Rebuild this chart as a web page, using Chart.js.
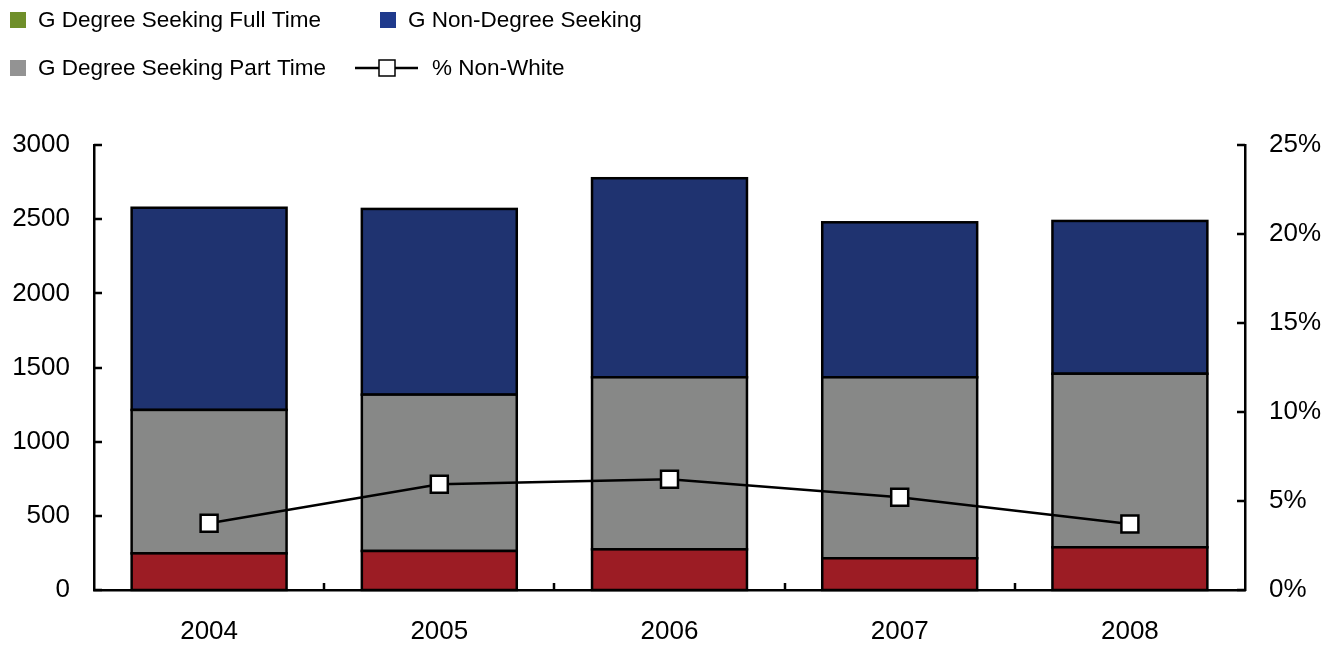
<!DOCTYPE html>
<html>
<head>
<meta charset="utf-8">
<script src="https://cdn.jsdelivr.net/npm/chart.js@4.4.0/dist/chart.umd.min.js"></script>
<style>
  body { margin: 0; background: #fff; }
  canvas { display: block; }
</style>
</head>
<body>
<canvas id="myChart" width="1338" height="648"></canvas>
<script>
// Données
const years = ['2004', '2005', '2006', '2007', '2008'];
const fullTime = [247, 263, 274, 214, 288];
const partTime = [967, 1054, 1160, 1220, 1170];
const nonDegree = [1363, 1252, 1342, 1045, 1030];
const pctNonWhite = [3.75, 5.94, 6.22, 5.21, 3.71];

const FONT = '"Liberation Sans", Arial, sans-serif';

// Légende dessinée à la main (grille 2x2 comme l'original)
const legendPlugin = {
  id: 'customLegend',
  afterDraw(chart) {
    const ctx = chart.ctx;
    const items = [
      { label: chart.data.datasets[0].label, color: '#6F8F2A', x: 10, y: 20 },
      { label: chart.data.datasets[2].label, color: '#1F3A8C', x: 380, y: 20 },
      { label: chart.data.datasets[1].label, color: '#939393', x: 10, y: 68 },
    ];
    ctx.save();
    ctx.font = '22.5px ' + FONT;
    ctx.textBaseline = 'middle';
    items.forEach(it => {
      ctx.fillStyle = it.color;
      ctx.fillRect(it.x, it.y - 8, 16, 16);
      ctx.fillStyle = '#000';
      ctx.fillText(it.label, it.x + 28, it.y + 1);
    });
    // ligne + carré
    ctx.strokeStyle = '#000';
    ctx.lineWidth = 2.5;
    ctx.beginPath();
    ctx.moveTo(355, 68);
    ctx.lineTo(418, 68);
    ctx.stroke();
    ctx.fillStyle = '#fff';
    ctx.fillRect(379, 60, 16, 16);
    ctx.lineWidth = 1.5;
    ctx.strokeRect(379, 60, 16, 16);
    ctx.fillStyle = '#000';
    ctx.fillText(chart.data.datasets[3].label, 432, 69);
    ctx.restore();
  }
};

// Contour noir des barres (un seul trait entre deux segments)
const barOutline = {
  id: 'barOutline',
  afterDatasetDraw(chart, args) {
    if (args.meta.type !== 'bar') return;
    const ctx = chart.ctx;
    ctx.save();
    ctx.strokeStyle = '#000';
    ctx.lineWidth = 2.5;
    args.meta.data.forEach(bar => {
      const p = bar.getProps(['x', 'y', 'base', 'width'], true);
      ctx.strokeRect(p.x - p.width / 2, p.y, p.width, p.base - p.y);
    });
    ctx.restore();
  }
};

// Petites graduations tournées vers l'intérieur
const innerTicks = {
  id: 'innerTicks',
  afterDraw(chart) {
    const ctx = chart.ctx;
    const y = chart.scales.y;
    const y1 = chart.scales.y1;
    const x = chart.scales.x;
    const area = chart.chartArea;
    ctx.save();
    ctx.strokeStyle = '#000';
    ctx.lineWidth = 2.5;
    ctx.beginPath();
    y.ticks.forEach(t => {
      const p = Math.round(y.getPixelForValue(t.value));
      ctx.moveTo(area.left, p);
      ctx.lineTo(area.left + 8, p);
    });
    y1.ticks.forEach(t => {
      const p = Math.round(y1.getPixelForValue(t.value));
      ctx.moveTo(area.right, p);
      ctx.lineTo(area.right - 8, p);
    });
    for (let i = 1; i < years.length; i++) {
      const p = Math.round((x.getPixelForValue(i - 1) + x.getPixelForValue(i)) / 2);
      ctx.moveTo(p, area.bottom);
      ctx.lineTo(p, area.bottom - 7);
    }
    ctx.stroke();
    ctx.restore();
  }
};

const ctx = document.getElementById('myChart').getContext('2d');

const barStyle = {
  borderWidth: 0,
  barPercentage: 0.673,
  categoryPercentage: 1,
  order: 1,
  yAxisID: 'y'
};

new Chart(ctx, {
  type: 'bar',
  data: {
    labels: years,
    datasets: [
      { ...barStyle, label: 'G Degree Seeking Full Time', data: fullTime, backgroundColor: '#9C1C24' },
      { ...barStyle, label: 'G Degree Seeking Part Time', data: partTime, backgroundColor: '#878887' },
      { ...barStyle, label: 'G Non-Degree Seeking', data: nonDegree, backgroundColor: '#1F3370' },
      {
        type: 'line',
        label: '% Non-White',
        data: pctNonWhite,
        yAxisID: 'y1',
        borderColor: '#000',
        borderWidth: 2.5,
        pointStyle: 'rect',
        pointRadius: 12,
        pointBackgroundColor: '#fff',
        pointBorderColor: '#000',
        pointBorderWidth: 2.5,
        tension: 0,
        order: 0
      }
    ]
  },
  options: {
    responsive: false,
    animation: false,
    layout: { padding: { top: 145, left: 0, right: 0, bottom: 0 } },
    plugins: {
      legend: { display: false },
      tooltip: { enabled: false }
    },
    scales: {
      x: {
        stacked: true,
        grid: { display: false, drawTicks: false },
        border: { display: true, color: '#000', width: 2.5 },
        ticks: { color: '#000', font: { size: 26, family: FONT }, padding: 26 },
        afterFit: s => { s.height = 58; }
      },
      y: {
        stacked: true,
        position: 'left',
        min: 0,
        max: 3000,
        grid: { display: false, drawTicks: false },
        border: { display: true, color: '#000', width: 2.5 },
        ticks: {
          stepSize: 500,
          color: '#000',
          font: { size: 26, family: FONT },
          padding: 24,
          callback: v => String(v)
        },
        afterFit: s => { s.width = 94; }
      },
      y1: {
        position: 'right',
        min: 0,
        max: 25,
        grid: { display: false, drawTicks: false },
        border: { display: true, color: '#000', width: 2.5 },
        ticks: {
          stepSize: 5,
          color: '#000',
          font: { size: 26, family: FONT },
          padding: 24,
          callback: v => v + '%'
        },
        afterFit: s => { s.width = 93; }
      }
    }
  },
  plugins: [legendPlugin, barOutline, innerTicks]
});
</script>
</body>
</html>
